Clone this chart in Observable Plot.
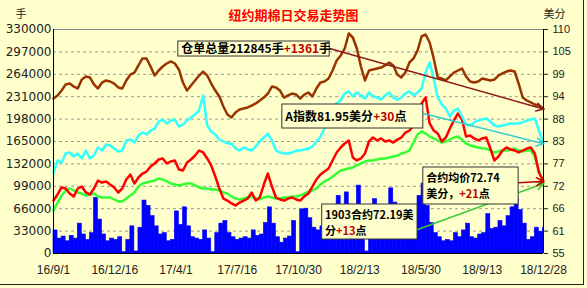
<!DOCTYPE html>
<html><head><meta charset="utf-8">
<script src="https://cdn.jsdelivr.net/npm/d3@7"></script>
<script src="https://cdn.jsdelivr.net/npm/@observablehq/plot@0.6"></script>
<style>
html,body{margin:0;padding:0;background:#FFFFCC;}
#chart{position:relative;width:587px;height:288px;overflow:hidden;}
#chart svg{display:block;position:absolute;left:0;top:0;}
#border{position:absolute;left:0;top:0;width:583px;height:284px;border-right:1px solid #222;border-bottom:1px solid #222;pointer-events:none;z-index:2;}
</style></head><body><div id="chart"><div id="border"></div></div>
<script>
// ---- data (weekly samples from 2016-09-01 to 2018-12-28) ----
const title = "纽约期棉日交易走势图";
const openInterest = [ // 手 (left axis)
228300,232800,240100,249000,250400,246000,243100,256300,260800,259300,
249000,243100,251900,254900,253400,250400,244600,243100,254900,263700,
266600,277000,287300,287300,275500,262200,269600,275500,279900,282900,
279900,271100,251900,240100,247500,254900,262200,268100,262200,250400,
240100,231300,216600,204800,200400,207700,212100,213600,215100,218000,
221000,225400,229800,235700,246000,244600,240100,229800,232800,235700,
234200,228300,234200,237200,231300,243100,251900,253400,257800,269600,
284300,291700,302000,324100,318200,302000,275500,254900,269600,271100,
272500,274000,277000,281400,277000,263700,259300,266600,281400,287300,
299100,319700,322600,310800,287300,259300,257800,254900,260800,266600,
269600,272500,260800,253400,251900,253400,257800,256300,254900,256300,
262200,265200,268100,269600,268100,250400,229800,225400,222500,219500,
218000,212845];
const aIndex = [ // 美分 (right axis)
74.89,77.84,77.34,79.55,79.80,78.82,79.55,78.33,80.29,78.33,
79.06,81.03,80.29,81.76,81.52,80.78,80.05,80.29,82.75,82.99,
82.25,83.97,84.71,84.22,85.20,85.69,87.41,87.90,86.92,87.66,
87.90,86.18,86.67,87.66,88.39,89.13,90.11,93.80,86.43,84.96,
84.22,82.99,82.50,82.01,82.01,80.78,80.29,81.03,80.54,80.29,
81.27,82.50,83.48,84.46,82.75,80.29,79.80,79.55,79.55,79.80,
80.29,80.29,80.54,80.78,81.27,82.50,83.73,85.69,88.39,91.09,
91.83,92.57,94.29,94.78,93.55,94.53,93.80,93.06,94.53,93.55,
93.30,92.81,93.80,94.53,93.30,92.81,93.30,94.29,94.78,93.80,
94.53,95.51,99.44,101.90,97.97,93.30,91.59,90.60,88.64,90.11,
90.60,88.64,86.67,86.43,87.17,87.66,87.90,88.15,87.41,86.43,
86.18,86.43,86.67,86.92,86.92,86.92,87.17,87.66,87.90,88.15,
85.20,81.95];
const avgPrice = [ // 合约均价 美分
68.01,69.49,71.21,70.96,69.73,69.00,70.96,71.45,69.98,69.49,
70.96,72.92,72.43,72.68,71.94,71.21,69.98,70.96,73.17,74.40,
72.19,73.66,74.64,75.13,76.36,77.10,78.08,78.33,77.10,77.59,
77.84,75.63,75.38,77.34,78.08,79.06,80.29,79.80,78.33,76.61,
73.91,70.96,68.50,68.01,67.28,66.79,67.52,68.01,68.50,69.98,
68.01,68.75,71.94,74.64,71.45,68.75,68.26,68.01,68.50,68.75,
68.26,68.01,69.00,69.73,71.45,73.17,74.40,75.13,75.87,77.84,
79.80,81.03,82.01,82.75,78.57,77.84,78.33,79.55,82.50,83.48,
82.75,83.24,82.50,82.75,82.25,82.99,83.48,84.71,85.20,86.43,
88.15,91.83,93.30,86.92,85.20,84.46,82.50,83.48,85.69,87.66,
89.38,87.90,83.73,83.97,83.24,82.75,83.24,83.48,80.78,77.84,
78.82,80.29,81.03,80.54,80.29,79.80,80.29,80.78,81.03,79.55,
74.89,72.74];
const contract1903 = [ // 1903合约 美分
65.56,67.52,69.24,70.47,70.96,70.47,69.98,69.73,69.24,69.49,
69.73,69.00,68.75,68.75,68.75,68.26,67.77,67.77,68.50,69.24,
69.98,71.45,72.19,72.43,72.68,72.92,73.42,73.17,72.68,72.19,
71.94,71.70,71.94,72.19,72.19,71.70,71.21,70.96,70.96,70.71,
70.71,70.47,69.98,69.73,69.00,68.50,68.26,68.50,68.75,69.00,
68.50,68.26,68.75,69.00,68.75,68.50,68.50,68.75,68.75,69.00,
69.00,69.24,69.73,70.22,70.47,70.96,71.94,72.68,73.17,73.91,
74.64,75.38,75.63,75.87,76.12,76.61,77.10,77.59,77.84,77.84,
78.08,78.33,78.33,78.57,78.82,79.06,79.55,79.80,80.29,82.25,
84.22,84.96,84.46,83.73,83.24,82.75,82.25,82.50,82.99,83.48,
83.73,82.99,82.01,81.52,81.27,81.03,80.78,80.78,80.29,79.80,
80.05,80.29,80.29,80.54,80.78,80.29,80.05,80.29,80.29,78.82,
75.38,72.19];
const volume = [ // 成交量 手 (left axis)
34000,22000,25000,18000,26000,22000,44000,28000,20000,30000,
82000,50000,28000,18000,22000,20000,24000,2000,20000,40000,
3000,38000,78000,70000,55000,40000,28000,30000,18000,20000,
62000,42000,68000,40000,24000,22000,20000,34000,22000,2000,
30000,44000,48000,30000,24000,20000,22000,24000,22000,34000,
26000,28000,45000,68000,44000,24000,16000,22000,25000,48000,
2000,65000,66000,52000,38000,34000,40000,55000,60000,70000,
85000,62000,90000,72000,60000,100000,45000,3000,65000,80000,
70000,62000,55000,96000,75000,60000,68000,55000,62000,70000,
85000,103000,70000,45000,30000,24000,18000,20000,18000,30000,
24000,34000,44000,24000,22000,28000,30000,58000,36000,38000,
48000,40000,55000,68000,82000,64000,44000,20000,24000,38000,
32000,38000];
const changes = {oi: "+1361", idx: "+30", c1903: "+13", avg: "+21"};
const xTickLabels = ["16/9/1","16/12/16","17/4/1","17/7/16","17/10/30","18/2/13","18/5/30","18/9/13","18/12/28"];
const leftTickLabels = ["0","33000","66000","99000","132000","165000","198000","231000","264000","297000","330000"];
const rightTickLabels = ["55","61","66","72","77","83","88","94","99","105","110"];

// ---- derived ----
const start = new Date(Date.UTC(2016, 8, 1));
const end = new Date(Date.UTC(2018, 11, 28));
const day = d => d3.utcDay.offset(start, d);
const n = openInterest.length;
const toY = c => (c - 55) * 6000; // right axis (55–110 美分) onto left scale (0–330000)
const rows = d3.range(n).map(i => {
  const b0 = day(7 * i);
  return {
    date: i === n - 1 ? end : b0,
    b0, b1: d3.min([day(7 * i + 7), end]),
    vol: volume[i], oi: openInterest[i],
    idx: toY(aIndex[i]), avg: toY(avgPrice[i]), c1903: toY(contract1903[i])
  };
});
const last = rows[n - 1];
const xTickDates = xTickLabels.map(s => { const [y, m, d] = s.split("/").map(Number); return new Date(Date.UTC(2000 + y, m - 1, d)); });
const xLabelOf = new Map(xTickDates.map((d, i) => [+d, xTickLabels[i]]));
const leftTicks = leftTickLabels.map(Number);

// annotation boxes (day offset from start, left-scale values)
const boxes = [
  {d1: 216, d2: 478, v1: 290200, v2: 312300},
  {d1: 396, d2: 640, v1: 184150, v2: 219500},
  {d1: 465, d2: 630, v1: 20600, v2: 72200},
  {d1: 640, d2: 805, v1: 72200, v2: 126700}
];
const fmt2 = v => v.toFixed(2);
const notes1 = [
  {d: 221, v: 301300, t: `仓单总量${openInterest[n-1]}手[${changes.oi}]手`},
  {d: 401, v: 200400, t: `A指数${fmt2(aIndex[n-1])}美分[${changes.idx}]点`}
];
const notes2 = [
  {d: 470, v: 55500, t: `1903合约${fmt2(contract1903[n-1])}美`},
  {d: 470, v: 31900, t: `分[${changes.c1903}]点`},
  {d: 645, v: 110500, t: `合约均价${fmt2(avgPrice[n-1])}`},
  {d: 645, v: 86900, t: `美分，[${changes.avg}]点`}
];
const arrows = [
  {d: 478, y: 302000, y2: last.oi, color: "#8B1A1A"},
  {d: 640, y: toY(89.38), y2: last.idx, color: "#33CCCC"},
  {d: 630, y: toY(60.89), y2: last.c1903, color: "#33CC33"},
  {d: 805, y: toY(72.4), y2: last.avg, color: "#CC0000"}
];

const chart = Plot.plot({
  width: 587, height: 288,
  marginLeft: 53, marginRight: 44, marginTop: 29, marginBottom: 35,
  x: {type: "utc", domain: [start, end]},
  y: {domain: [0, 330000]},
  style: {background: "#FFFFCC", fontFamily: "DejaVu Sans", fontSize: "12px", color: "#222"},
  marks: [
    Plot.gridY({ticks: leftTicks.slice(1, -1), stroke: "#999", strokeOpacity: 1, strokeDasharray: "3,3"}),
    Plot.ruleY([330000], {stroke: "#888"}),
    Plot.rectY(rows, {x1: "b0", x2: "b1", y: "vol", fill: "#0000FF", stroke: "#0000FF", strokeWidth: 0.6}),
    Plot.line(rows, {x: "date", y: "c1903", stroke: "#33FF33", strokeWidth: 2.5}),
    Plot.line(rows, {x: "date", y: "avg", stroke: "#FF0000", strokeWidth: 2.5}),
    Plot.line(rows, {x: "date", y: "idx", stroke: "#33FFFF", strokeWidth: 2.5}),
    Plot.line(rows, {x: "date", y: "oi", stroke: "#993300", strokeWidth: 2.5}),
    Plot.ruleY([0], {stroke: "#000"}),
    Plot.ruleX([start, end], {stroke: "#000"}),
    ...arrows.map(a => Plot.arrow([a], {x1: d => day(d.d), y1: "y", x2: () => end, y2: "y2", stroke: a.color, strokeWidth: 1.5, headLength: 8, bend: 0})),
    Plot.rect(boxes, {x1: d => day(d.d1), x2: d => day(d.d2), y1: "v1", y2: "v2", fill: "#FFFFCC", stroke: "#333", strokeWidth: 1}),
    Plot.text(notes1, {x: d => day(d.d), y: "v", text: "t", textAnchor: "start", lineAnchor: "middle", fontFamily: "Noto Sans CJK SC", fontWeight: "bold", fontSize: 12, fill: "#000"}),
    Plot.text(notes2, {x: d => day(d.d), y: "v", text: "t", textAnchor: "start", lineAnchor: "middle", fontFamily: "Noto Sans CJK SC", fontWeight: "bold", fontSize: 11, fill: "#000"}),
    Plot.axisY({anchor: "left", ticks: leftTicks, tickSize: 0, tickPadding: 2, tickFormat: d => leftTickLabels[leftTicks.indexOf(d)], label: null, fontFamily: "DejaVu Sans", fontSize: 12}),
    Plot.axisY({anchor: "right", ticks: leftTicks, tickSize: 4, tickPadding: 5, tickFormat: d => rightTickLabels[leftTicks.indexOf(d)], label: null, fontFamily: "Liberation Sans", fontSize: 11}),
    Plot.axisX({ticks: xTickDates, tickSize: 0, tickPadding: 12, tickFormat: d => xLabelOf.get(+d), label: null, fontFamily: "Liberation Sans", fontSize: 12}),
    Plot.text([title], {frameAnchor: "top", lineAnchor: "middle", dx: -5, dy: -14, text: d => d, fill: "#FF0000", fontFamily: "Noto Sans CJK SC", fontWeight: "bold", fontSize: 13}),
    Plot.text(["手"], {frameAnchor: "top-left", lineAnchor: "middle", dx: -38, dy: -15, text: d => d, fill: "#222", fontFamily: "Noto Sans CJK SC", fontSize: 11}),
    Plot.text(["美分"], {frameAnchor: "top-right", lineAnchor: "middle", dx: 22, dy: -15, text: d => d, fill: "#222", fontFamily: "Noto Sans CJK SC", fontSize: 11})
  ]
});

// colour the bracketed change figures dark red
const ns = "http://www.w3.org/2000/svg";
chart.querySelectorAll("text").forEach(t => {
  const s = t.textContent;
  if (!s.includes("[")) return;
  t.textContent = "";
  s.split(/(\[[^\]]*\])/).forEach(part => {
    if (!part) return;
    const ts = document.createElementNS(ns, "tspan");
    if (part.startsWith("[")) { ts.textContent = part.slice(1, -1); ts.setAttribute("fill", "#C00000"); }
    else ts.textContent = part;
    t.appendChild(ts);
  });
});
document.getElementById("chart").appendChild(chart);
</script></body></html>
